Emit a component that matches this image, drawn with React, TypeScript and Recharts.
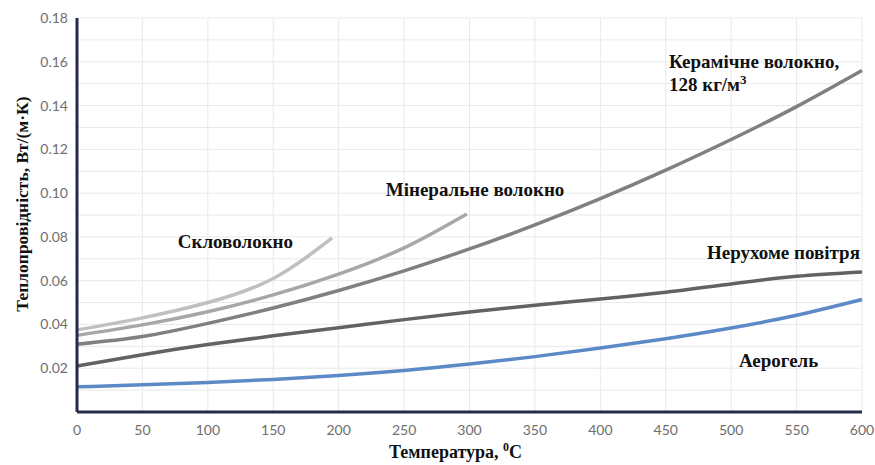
import { LineChart, Line, XAxis, YAxis, CartesianGrid, ReferenceDot } from 'recharts';

// temperatures (°C) and conductivity values (W/(m·K))
const glassT = [0, 50, 100, 150, 195];
const glassK = [0.0375, 0.043, 0.05, 0.061, 0.0795];

const mineralT = [0, 50, 100, 150, 200, 250, 298];
const mineralK = [0.035, 0.0398, 0.0458, 0.0535, 0.063, 0.075, 0.0905];

const fullT = [0, 50, 100, 150, 200, 250, 300, 350, 400, 450, 500, 550, 600];
const ceramicK = [0.031, 0.0345, 0.0405, 0.0475, 0.0555, 0.0645, 0.0745, 0.0855, 0.0975, 0.1105, 0.1245, 0.1395, 0.156];
const airK = [0.021, 0.0262, 0.0308, 0.0348, 0.0385, 0.0422, 0.0457, 0.0488, 0.0516, 0.0547, 0.0585, 0.062, 0.064];
const aerogelK = [0.0115, 0.0124, 0.0135, 0.0149, 0.0167, 0.019, 0.0219, 0.0253, 0.0292, 0.0335, 0.0384, 0.0442, 0.0514];

const xTicks = [0, 50, 100, 150, 200, 250, 300, 350, 400, 450, 500, 550, 600];
const yTicks = [0, 0.01, 0.02, 0.03, 0.04, 0.05, 0.06, 0.07, 0.08, 0.09, 0.1, 0.11, 0.12, 0.13, 0.14, 0.15, 0.16, 0.17, 0.18];

const toRows = (ts: number[], ks: number[]) => ts.map((t, i) => ({ t, k: ks[i] }));

const series = [
  { name: 'Скловолокно', data: toRows(glassT, glassK), color: '#c0c0c0' },
  { name: 'Мінеральне волокно', data: toRows(mineralT, mineralK), color: '#a7a7a7' },
  { name: 'Керамічне волокно', data: toRows(fullT, ceramicK), color: '#808080' },
  { name: 'Нерухоме повітря', data: toRows(fullT, airK), color: '#626262' },
  { name: 'Аерогель', data: toRows(fullT, aerogelK), color: '#5b8ac6' },
];

// annotation anchors (text start, baseline) in data units
const notes = [
  { t: 452.5, k: 0.1572, lines: ['Керамічне волокно,', '128 кг/м'], sup: '3' },
  { t: 236, k: 0.0987, lines: ['Мінеральне волокно'] },
  { t: 77, k: 0.0749, lines: ['Скловолокно'] },
  { t: 481.5, k: 0.0699, lines: ['Нерухоме повітря'] },
  { t: 506, k: 0.0206, lines: ['Аерогель'] },
];

const serif = '"Liberation Serif", "Times New Roman", serif';
const sans = 'Lato, "Open Sans", sans-serif';

const NoteText = ({ cx, cy, note }: any) => (
  <text x={cx} y={cy} fontFamily={serif} fontWeight="bold" fontSize={19} fill="#111">
    {note.lines.map((l: string, i: number) => (
      <tspan key={i} x={cx} dy={i === 0 ? 0 : 23}>
        {l}
        {i === note.lines.length - 1 && note.sup ? (
          <tspan fontSize={13} dy={-7}>{note.sup}</tspan>
        ) : null}
      </tspan>
    ))}
  </text>
);

const XTitle = ({ viewBox }: any) => (
  <text x={viewBox.x + viewBox.width / 2 - 14} y={458} textAnchor="middle" fontFamily={serif} fontWeight="bold" fontSize={18} fill="#111">
    Температура, <tspan fontSize={12} dy={-7}>0</tspan>
    <tspan dy={7}>C</tspan>
  </text>
);

const YTitle = () => {
  const cy = 204;
  return (
    <text x={28} y={cy} transform={`rotate(-90 28 ${cy})`} textAnchor="middle" fontFamily={serif} fontWeight="bold" fontSize={17.5} fill="#111">
      Теплопровідність, Вт/(м·К)
    </text>
  );
};

const fmtY = (v: number) => {
  const n = Math.round(v * 100);
  return n > 0 && n % 2 === 0 ? v.toFixed(2) : '';
};

export default function App() {
  return (
    <div style={{ position: 'absolute', left: 0, top: 0, background: '#fff' }}>
      <LineChart width={875} height={465} margin={{ top: 18, right: 13, bottom: 23, left: 0 }}>
        <CartesianGrid stroke="#e9e9ec" strokeWidth={1} />
        <XAxis
          type="number"
          dataKey="t"
          domain={[0, 600]}
          ticks={xTicks}
          tickLine={false}
          tickMargin={7}
          axisLine={{ stroke: '#262b4c', strokeWidth: 3 }}
          tick={{ fill: '#6e6e6e', fontSize: 14, fontFamily: sans }}
          label={{ content: XTitle }}
          allowDuplicatedCategory={false}
        />
        <YAxis
          type="number"
          domain={[0, 0.18]}
          ticks={yTicks}
          interval={0}
          width={77}
          tickLine={false}
          tickMargin={3}
          tickFormatter={fmtY}
          axisLine={{ stroke: '#262b4c', strokeWidth: 3 }}
          tick={{ fill: '#6e6e6e', fontSize: 14, fontFamily: sans }}
          label={{ content: YTitle }}
        />
        {series.map((s) => (
          <Line
            key={s.name}
            data={s.data}
            dataKey="k"
            type="natural"
            stroke={s.color}
            strokeWidth={3.5}
            dot={false}
            activeDot={false}
            isAnimationActive={false}
          />
        ))}
        {notes.map((n, i) => (
          <ReferenceDot
            key={i}
            x={n.t}
            y={n.k}
            r={0}
            ifOverflow="visible"
            shape={(p: any) => <NoteText cx={p.cx} cy={p.cy} note={n} />}
          />
        ))}
      </LineChart>
    </div>
  );
}
